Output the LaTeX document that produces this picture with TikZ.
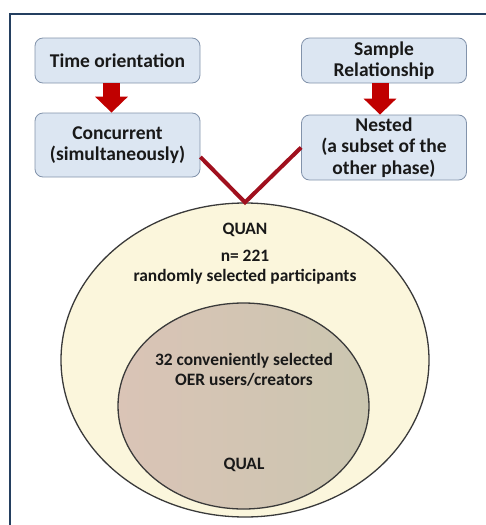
\documentclass[tikz,border=0pt]{standalone}
\usepackage{fontspec}
\setmainfont{Carlito}
\usetikzlibrary{shapes.geometric,arrows.meta}

\definecolor{marco}{HTML}{243F60}
\definecolor{cajaazul}{HTML}{DCE6F2}
\definecolor{bordeazul}{HTML}{8293AB}
\definecolor{rojo}{HTML}{C00000}
\definecolor{granate}{HTML}{A0101E}
\definecolor{crema}{HTML}{FBF6DC}
\definecolor{borde}{HTML}{3A3A3A}
\definecolor{rosado}{HTML}{DAC4B6}
\definecolor{topo}{HTML}{B8A898}
\definecolor{gris}{HTML}{CBC6B0}

\tikzset{
    caja/.style={draw=bordeazul, fill=cajaazul, rounded corners=8pt, line width=0.8pt,
        minimum width=165pt, inner sep=2pt, align=center, text=black!90,
        font=\fontsize{19.5}{21.5}\selectfont\bfseries},
    flecha/.style={draw=rojo, line width=17pt, -{Triangle[width=32pt,length=16pt]}},
    union/.style={draw=granate, line width=4pt, line join=miter},
    texto/.style={align=center, text=black!90, inner sep=0pt,
        font=\fontsize{17.4}{20.5}\selectfont\bfseries}
}

\begin{document}
\begin{tikzpicture}[x=1pt, y=-1pt]
    \useasboundingbox (0,0) rectangle (486,525);

    % Dibuja el marco
    \draw[marco, line width=2.5pt] (10,525) -- (10,14) -- (486,14);

    % Dibuja las cajas de arriba
    \node[caja, minimum height=45pt] (tiempo) at (117.5,60.5) {Time orientation};
    \node[caja, minimum height=45pt] (muestra) at (384,60.5) {Sample\\Relationship};

    % Dibuja las cajas de abajo
    \node[caja, minimum height=64pt] (concurrente) at (117.5,145) {Concurrent\\(simultaneously)};
    \node[caja, minimum height=65pt] (anidado) at (384,147.5) {Nested\\(a subset of the\\other phase)};

    % Dibuja las flechas
    \draw[flecha] ([xshift=-6pt]tiempo.south) -- ([xshift=-6pt]concurrente.north);
    \draw[flecha] ([xshift=-4pt]muestra.south) -- ([xshift=-4pt]anidado.north);

    % Dibuja la elipse QUAN
    \node[ellipse, draw=borde, fill=crema, line width=1.3pt, minimum width=368pt,
        minimum height=314pt, inner sep=0pt] (quan) at (245,360) {};

    % Dibuja la elipse QUAL
    \node[ellipse, draw=borde, left color=rosado, middle color=topo, right color=gris,
        line width=1.3pt, minimum width=251pt, minimum height=206pt, inner sep=0pt] (qual) at (243.5,406) {};

    % Dibuja la union en V
    \draw[union] ([yshift=-12pt]concurrente.east) -- (quan.north) -- (anidado.west);

    % Textos de las elipses
    \node[texto] (quantitulo) at (245,230) {QUAN};
    \node[texto] (quanmuestra) at (245,267) {n= 221\\randomly selected participants};
    \node[texto] (qualmuestra) at (244,370) {32 conveniently selected\\OER users/creators};
    \node[texto] (qualtitulo) at (244,465) {QUAL};
\end{tikzpicture}
\end{document}
